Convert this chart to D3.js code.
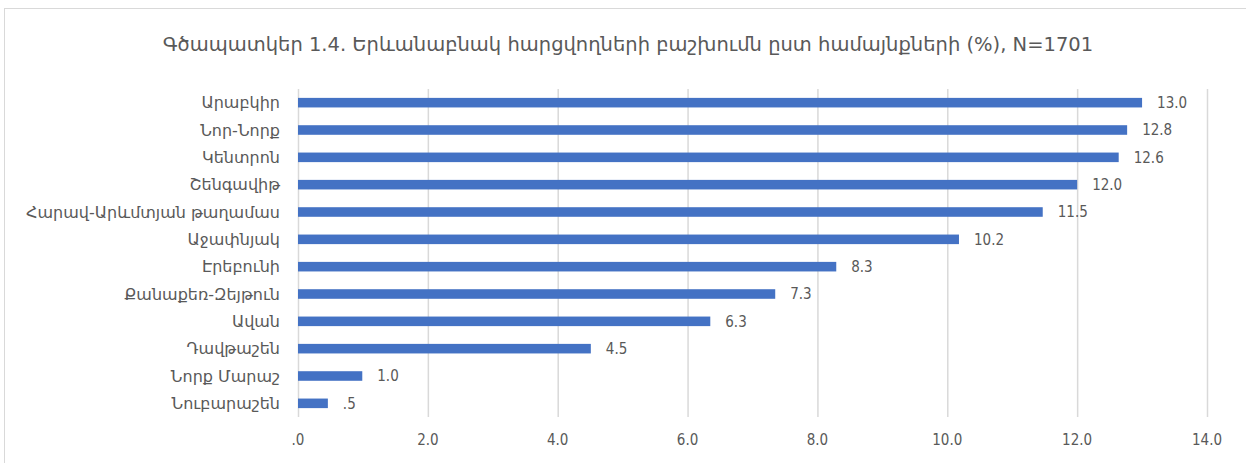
<!DOCTYPE html>
<html>
<head>
<meta charset="utf-8">
<script src="https://cdn.jsdelivr.net/npm/d3@7"></script>
<style>
  body { margin: 0; background: #fff; }
  text { fill: #595959; }
  .num { font-family: "DejaVu Sans Condensed", "DejaVu Sans", sans-serif; font-size: 15px; }
  .lbl { font-family: "DejaVu Sans", "Noto Sans", sans-serif; font-size: 16px; }
  .ttl { font-family: "DejaVu Sans", "Noto Sans", sans-serif; font-size: 19.5px; }
</style>
</head>
<body>
<div id="chart"></div>
<script>
// districts, top to bottom
var districts = ["Արաբկիր", "Նոր-Նորք", "Կենտրոն", "Շենգավիթ", "Հարավ-Արևմտյան թաղամաս",
                 "Աջափնյակ", "Էրեբունի", "Քանաքեռ-Զեյթուն", "Ավան", "Դավթաշեն", "Նորք Մարաշ", "Նուբարաշեն"];
// bar lengths (%)
var shares = [13.0, 12.77, 12.64, 12.0, 11.47, 10.18, 8.29, 7.35, 6.35, 4.51, 0.99, 0.46];
var xTicks = [0, 2, 4, 6, 8, 10, 12, 14];
var title = "Գծապատկեր 1.4. Երևանաբնակ հարցվողների բաշխումն ըստ համայնքների (%), N=1701";

var W = 1246, H = 463;
var svg = d3.select("#chart").append("svg")
    .attr("width", W)
    .attr("height", H);

// chart frame (right/bottom edges fall outside the window)
svg.append("rect")
   .attr("x", 4.5).attr("y", 8.5)
   .attr("width", W + 20).attr("height", H + 20)
   .attr("fill", "none")
   .attr("stroke", "#d9d9d9");

svg.append("text")
   .attr("class", "ttl")
   .attr("x", 628).attr("y", 51)
   .attr("text-anchor", "middle")
   .text(title);

var fmt = function(v) { return v.toFixed(1).replace(/^0\./, "."); };

var x = d3.scaleLinear().domain([0, 14]).range([298, 1207]);
var y = d3.scaleBand().domain(districts).range([89, 417])
          .paddingInner(0.65).paddingOuter(0.325);

// gridlines
svg.append("g").selectAll("line")
   .data(xTicks).enter().append("line")
   .attr("x1", d => x(d) + 0.5).attr("x2", d => x(d) + 0.5)
   .attr("y1", 89).attr("y2", 417)
   .attr("stroke", "#d9d9d9")
   .attr("stroke-width", 1.5);

// tick labels
svg.append("g").selectAll("text")
   .data(xTicks).enter().append("text")
   .attr("class", "num")
   .attr("x", d => x(d)).attr("y", 445)
   .attr("text-anchor", "middle")
   .text(fmt);

// bars
svg.append("g").selectAll("rect")
   .data(shares).enter().append("rect")
   .attr("x", x(0))
   .attr("y", (d, i) => y(districts[i]))
   .attr("width", d => x(d) - x(0))
   .attr("height", y.bandwidth())
   .attr("fill", "#4472c4");

// value labels
svg.append("g").selectAll("text")
   .data(shares).enter().append("text")
   .attr("class", "num")
   .attr("x", d => x(d) + 15)
   .attr("y", (d, i) => y(districts[i]) + y.bandwidth() / 2)
   .attr("dy", "0.35em")
   .text(fmt);

// category labels
svg.append("g").selectAll("text")
   .data(districts).enter().append("text")
   .attr("class", "lbl")
   .attr("x", 280)
   .attr("y", d => y(d) + y.bandwidth() / 2)
   .attr("dy", "0.35em")
   .attr("text-anchor", "end")
   .text(d => d);
</script>
</body>
</html>
